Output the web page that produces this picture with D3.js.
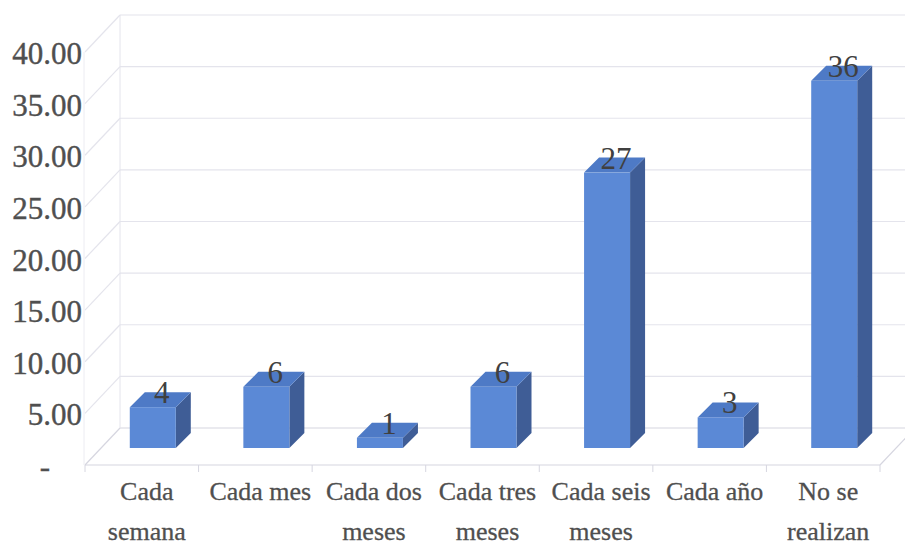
<!DOCTYPE html>
<html>
<head>
<meta charset="utf-8">
<script src="https://cdn.jsdelivr.net/npm/d3@7/dist/d3.min.js"></script>
<style>
  html, body { margin: 0; padding: 0; background: #ffffff; }
  svg { display: block; }
</style>
</head>
<body>
<svg id="chart" width="905" height="548"></svg>
<script>
// ---- data ----
const categories = [["Cada", "semana"], ["Cada mes"], ["Cada dos", "meses"], ["Cada tres", "meses"], ["Cada seis", "meses"], ["Cada año"], ["No se", "realizan"]];
const values = [4, 6, 1, 6, 27, 3, 36];
const dataLabels = ["4", "6", "1", "6", "27", "3", "36"];
const yTicks = [0, 5, 10, 15, 20, 25, 30, 35, 40];
const yTickLabels = ["-", "5.00", "10.00", "15.00", "20.00", "25.00", "30.00", "35.00", "40.00"];

// ---- layout ----
const W = 905, H = 548;
const svg = d3.select("#chart");
const keys = categories.map(c => c.join(" "));

const x = d3.scaleBand().domain(keys).range([85, 880]).padding(0);
const yFront = d3.scaleLinear().domain([0, 40]).range([465, 52]);   // front plane
const depth = { dx: 35, dy: -37 };                                    // floor depth
const yBack = v => yFront(v) + depth.dy;
const barScale = d3.scaleLinear().domain([0, 40]).range([0, 408]);
const barBase = 448, barShift = 11, barW = 46, bd = 15;

const gridColor = "#e4e4ec", floorColor = "#d6d6e0";
const textColor = "#4f4f4f";

// back wall gridlines
svg.append("g").selectAll("line").data(yTicks).join("line")
  .attr("x1", 85 + depth.dx).attr("x2", W)
  .attr("y1", d => yBack(d)).attr("y2", d => yBack(d))
  .attr("stroke", d => d === 0 ? floorColor : gridColor).attr("stroke-width", 1.2);

// side wall diagonals
svg.append("g").selectAll("line").data(yTicks).join("line")
  .attr("x1", 85).attr("y1", d => yFront(d))
  .attr("x2", 85 + depth.dx).attr("y2", d => yBack(d))
  .attr("stroke", d => d === 0 ? floorColor : gridColor).attr("stroke-width", 1.2);

// back wall left edge and front axis
svg.append("line").attr("x1", 85 + depth.dx).attr("x2", 85 + depth.dx)
  .attr("y1", yBack(40)).attr("y2", yBack(0)).attr("stroke", gridColor);
svg.append("line").attr("x1", 84).attr("x2", 84)
  .attr("y1", yFront(40)).attr("y2", yFront(0)).attr("stroke", "#ececf2");

// floor front edge + right edge
svg.append("line").attr("x1", 85).attr("x2", 880).attr("y1", yFront(0)).attr("y2", yFront(0))
  .attr("stroke", floorColor).attr("stroke-width", 1.2);
svg.append("line").attr("x1", 880).attr("y1", yFront(0)).attr("x2", 880 + depth.dx).attr("y2", yBack(0))
  .attr("stroke", floorColor).attr("stroke-width", 1.2);

// category ticks
const bounds = keys.map(k => x(k)).concat([x.range()[1]]);
svg.append("g").selectAll("line").data(bounds).join("line")
  .attr("x1", d => d).attr("x2", d => d)
  .attr("y1", yFront(0)).attr("y2", yFront(0) + 7)
  .attr("stroke", floorColor);

// y axis labels
svg.append("g").selectAll("text").data(yTicks).join("text")
  .attr("x", (d, i) => d === 0 ? 45 : 82)
  .attr("y", d => yFront(d) + 5)
  .attr("text-anchor", d => d === 0 ? "middle" : "end")
  .attr("dominant-baseline", "middle")
  .attr("font-family", "'Liberation Serif', 'Times New Roman', serif")
  .attr("font-size", 31).attr("fill", textColor)
  .attr("stroke", textColor).attr("stroke-width", 0.4)
  .text((d, i) => yTickLabels[i]);

// bars
const bars = svg.append("g").selectAll("g").data(values).join("g");
const bx = i => x(keys[i]) + x.bandwidth() / 2 + barShift - barW / 2;
const barTop = v => barBase - barScale(v);

bars.append("path") // side
  .attr("d", (v, i) => {
    const x0 = bx(i) + barW, t = barTop(v);
    return `M${x0},${barBase} L${x0},${t} L${x0 + bd},${t - bd} L${x0 + bd},${barBase - bd} Z`;
  }).attr("fill", "#3f5d96");
bars.append("path") // top
  .attr("d", (v, i) => {
    const x0 = bx(i), t = barTop(v);
    return `M${x0},${t} L${x0 + bd},${t - bd} L${x0 + barW + bd},${t - bd} L${x0 + barW},${t} Z`;
  }).attr("fill", "#4e7ac6");
bars.append("rect") // front
  .attr("x", (v, i) => bx(i)).attr("y", v => barTop(v))
  .attr("width", barW).attr("height", v => barScale(v))
  .attr("fill", "#5b89d6");

// data labels
svg.append("g").selectAll("text").data(values).join("text")
  .attr("x", (v, i) => bx(i) + barW / 2 + 9)
  .attr("y", v => barTop(v) - 4)
  .attr("text-anchor", "middle")
  .attr("font-family", "'Liberation Serif', 'Times New Roman', serif")
  .attr("font-size", 31).attr("fill", "#404040")
  .text((v, i) => dataLabels[i]);

// category labels
const cat = svg.append("g").selectAll("text").data(categories).join("text")
  .attr("text-anchor", "middle")
  .attr("font-family", "'Liberation Serif', 'Times New Roman', serif")
  .attr("font-size", 26).attr("fill", textColor)
  .attr("stroke", textColor).attr("stroke-width", 0.3);
cat.each(function(lines, i) {
  const cx = x(keys[i]) + x.bandwidth() / 2 + 5;
  d3.select(this).selectAll("tspan").data(lines).join("tspan")
    .attr("x", cx).attr("y", (l, j) => 500 + j * 40)
    .text(l => l);
});
</script>
</body>
</html>
